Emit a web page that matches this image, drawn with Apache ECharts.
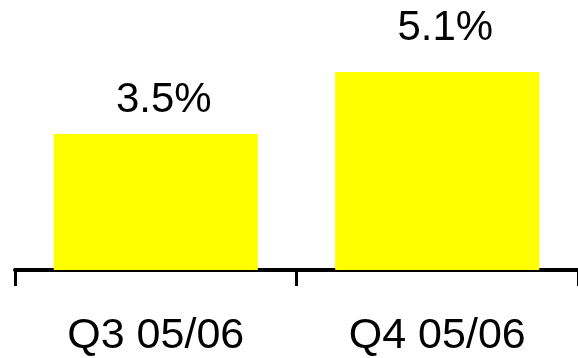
<!DOCTYPE html>
<html><head><meta charset="utf-8">
<script src="https://cdn.jsdelivr.net/npm/echarts@6/dist/echarts.min.js"></script>
<style>html,body{margin:0;padding:0;background:#fff}#c{width:578px;height:358px}</style>
</head><body><div id="c"></div>
<script>
var categories = ["Q3 05/06", "Q4 05/06"];
var values = [3.5, 5.1];
var valueLabels = ["3.5%", "5.1%"];
var labelGaps = [13, 23];

var chart = echarts.init(document.getElementById('c'), null, {renderer: 'canvas'});
chart.setOption({
  animation: false,
  grid: {left: 15, right: -1, top: 37, bottom: 86},
  xAxis: {
    type: 'category',
    data: categories,
    axisLine: {lineStyle: {color: '#000', width: 4}},
    axisTick: {show: true, length: 16, lineStyle: {color: '#000', width: 3}},
    axisLabel: {color: '#000', fontFamily: 'Liberation Sans', fontSize: 43, margin: 45}
  },
  yAxis: {
    type: 'value', min: 0, max: 6, show: false,
    splitLine: {show: false}
  },
  series: [{
    type: 'bar',
    data: values.map(function (v, i) {
      return {value: v, label: {distance: labelGaps[i]}};
    }),
    barWidth: '72.5%',
    itemStyle: {color: '#ffff00'},
    label: {
      show: true, position: 'top', distance: 13, offset: [8, 0],
      color: '#000', fontFamily: 'Liberation Sans', fontSize: 42,
      formatter: function (p) { return valueLabels[p.dataIndex]; }
    }
  }]
});
</script></body></html>
